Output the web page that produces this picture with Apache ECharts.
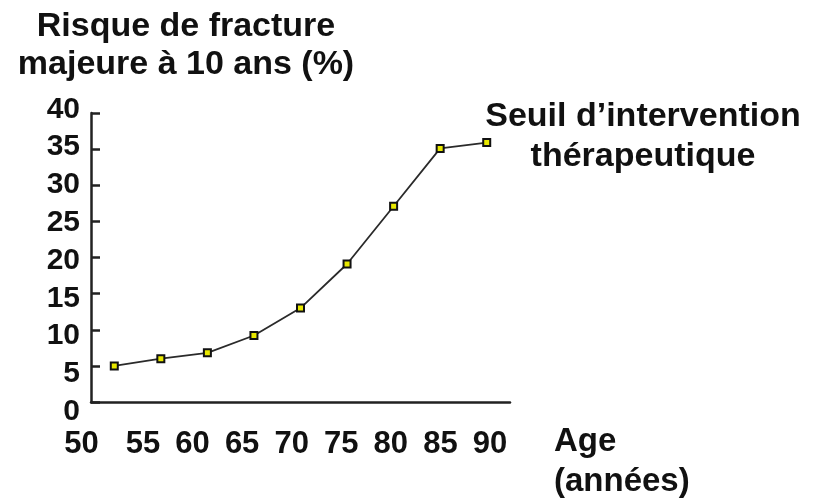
<!DOCTYPE html>
<html>
<head>
<meta charset="utf-8">
<script src="https://cdn.jsdelivr.net/npm/echarts@6/dist/echarts.min.js"></script>
<style>
html,body{margin:0;padding:0;background:#fff;}
#c{width:813px;height:500px;}
</style>
</head>
<body>
<div id="c"></div>
<script>
const ages = ['50', '55', '60', '65', '70', '75', '80', '85', '90'];
const risk = [5, 6, 6.8, 9.2, 13, 19.1, 27.1, 35.1, 35.9];
const yTicks = { min: 0, max: 40, interval: 5 };
const yTitle = 'Risque de fracture\nmajeure à 10 ans (%)';
const thresholdText = 'Seuil d\u2019intervention\nthérapeutique';
const xTitle = 'Age\n(années)';

const FONT = '"Liberation Sans", Arial, sans-serif';
const chart = echarts.init(document.getElementById('c'), null, { renderer: 'canvas' });

chart.setOption({
  animation: false,
  backgroundColor: '#ffffff',
  title: [
    { text: yTitle, left: 186, top: 8, textAlign: 'center', padding: 0,
      textStyle: { fontFamily: FONT, fontWeight: 'bold', fontSize: 34, lineHeight: 38, color: '#111', align: 'center' } },
    { text: thresholdText, left: 643, top: 97, textAlign: 'center', padding: 0,
      textStyle: { fontFamily: FONT, fontWeight: 'bold', fontSize: 34, lineHeight: 40, color: '#111', align: 'center' } },
    { text: xTitle, left: 554, top: 422, padding: 0,
      textStyle: { fontFamily: FONT, fontWeight: 'bold', fontSize: 33, lineHeight: 40, color: '#111' } }
  ],
  grid: [
    { left: 91, top: 113, width: 419, height: 289, containLabel: false },
    { left: 68.6, top: 113, width: 446.2, height: 289, containLabel: false },
    { left: 91, top: 109.3, width: 419, height: 302.4, containLabel: false }
  ],
  xAxis: [
    { type: 'category', gridIndex: 0, data: ages, boundaryGap: true,
      axisLine: { show: true, lineStyle: { color: '#222', width: 2.5 } },
      axisTick: { show: false }, axisLabel: { show: false }, splitLine: { show: false } },
    { type: 'category', gridIndex: 1, data: ages, boundaryGap: true,
      axisLine: { show: false }, axisTick: { show: false }, splitLine: { show: false },
      axisLabel: { show: true, interval: 0, margin: 27, fontFamily: FONT, fontWeight: 'bold', fontSize: 31, color: '#111',
        formatter: function (v, i) { return i === 0 ? '{s|' + v + '}' : v; },
        rich: { s: { fontFamily: FONT, fontWeight: 'bold', fontSize: 31, color: '#111', padding: [0, 24, 0, 0] } } } },
    { type: 'category', gridIndex: 2, data: ages, show: false }
  ],
  yAxis: [
    { type: 'value', gridIndex: 0, min: yTicks.min, max: yTicks.max, interval: yTicks.interval,
      axisLine: { show: true, lineStyle: { color: '#222', width: 2.5 } },
      axisTick: { show: true, inside: true, length: 9, lineStyle: { color: '#222', width: 2.5 } },
      axisLabel: { show: false }, splitLine: { show: false } },
    { type: 'value', gridIndex: 1, min: yTicks.min, max: yTicks.max, show: false },
    { type: 'value', gridIndex: 2, min: yTicks.min, max: yTicks.max, interval: yTicks.interval,
      axisLine: { show: false }, axisTick: { show: false }, splitLine: { show: false },
      axisLabel: { show: true, margin: 11, fontFamily: FONT, fontWeight: 'bold', fontSize: 30, color: '#111' } }
  ],
  series: [
    { type: 'line', xAxisIndex: 0, yAxisIndex: 0, data: risk,
      symbol: 'rect', symbolSize: 7, showSymbol: true,
      lineStyle: { color: '#2a2a2a', width: 1.8 },
      itemStyle: { color: '#e8e800', borderColor: '#111', borderWidth: 2 } }
  ]
});
</script>
</body>
</html>
